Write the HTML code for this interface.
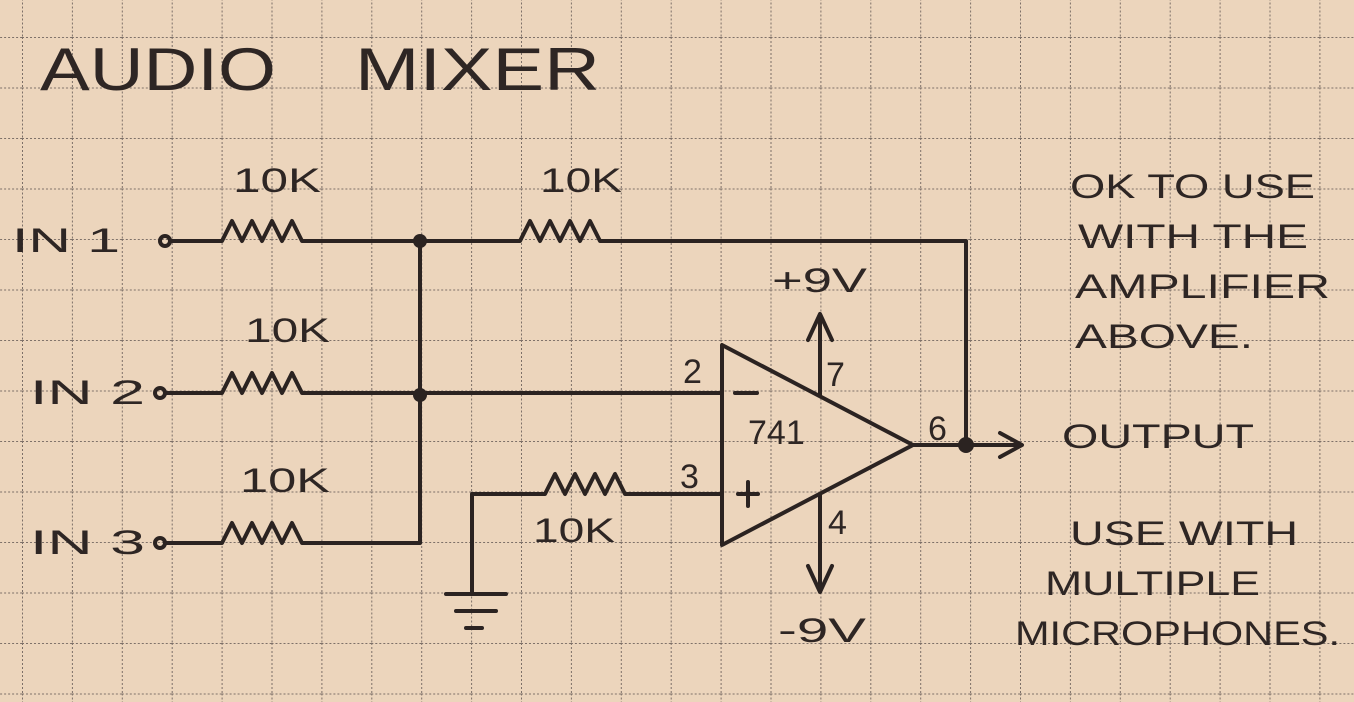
<!DOCTYPE html>
<html><head><meta charset="utf-8"><style>
html,body{margin:0;padding:0;background:#ecd5bc;}
svg{display:block}
text{font-family:"Liberation Sans",sans-serif;fill:#2e2624;}
</style></head><body>
<svg width="1354" height="702" viewBox="0 0 1354 702" xmlns="http://www.w3.org/2000/svg">
<defs>
<pattern id="g" x="22" y="37" width="49.9" height="50.5" patternUnits="userSpaceOnUse">
<path d="M0 0V50.5M0 0H49.9" stroke="#7d7068" stroke-width="2" stroke-dasharray="2 2" fill="none"/>
</pattern>
</defs>
<rect width="1354" height="702" fill="#ecd5bc"/>
<rect width="1354" height="702" fill="url(#g)"/>
<text x="40" y="90" font-size="60" textLength="236" lengthAdjust="spacingAndGlyphs">AUDIO</text>
<text x="355" y="90" font-size="60" textLength="245" lengthAdjust="spacingAndGlyphs">MIXER</text>
<g stroke="#2b2321" stroke-width="4" fill="none" stroke-linecap="round" stroke-linejoin="round">
<circle cx="165" cy="241" r="5"/>
<path d="M170 241H222l10 -20 10 20 10 -20 10 20 10 -20 10 20 10 -20 10 20H520l10 -20 10 20 10 -20 10 20 10 -20 10 20 10 -20 10 20H966V445"/>
<circle cx="160" cy="393" r="5"/>
<path d="M165 393H222l10 -20 10 20 10 -20 10 20 10 -20 10 20 10 -20 10 20H722"/>
<circle cx="160" cy="543" r="5"/>
<path d="M165 543H222l10 -20 10 20 10 -20 10 20 10 -20 10 20 10 -20 10 20H420V241"/>
<path d="M722 494H625l-10 -20 -10 20 -10 -20 -10 20 -10 -20 -10 20 -10 -20 -10 20H472V592"/>
<path d="M446 594H506M456 611H496M466 628H482"/>
<path d="M722 345V545L913 445Z"/>
<path d="M913 445H1020M1000 433L1022 445 1000 457"/>
<path d="M820 395V315M808 340L820 314 832 340"/>
<path d="M820 495V592M808 566L820 592 832 566"/>
<path d="M735 393H757M738 494H758M748 482V506"/>
</g>
<g fill="#2b2321"><circle cx="420" cy="241" r="7"/><circle cx="420" cy="395" r="7"/><circle cx="966" cy="445" r="8"/></g>
<g font-size="34">
<text x="12" y="252" textLength="108" lengthAdjust="spacingAndGlyphs">IN 1</text>
<text x="30" y="404" textLength="115" lengthAdjust="spacingAndGlyphs">IN 2</text>
<text x="30" y="554" textLength="115" lengthAdjust="spacingAndGlyphs">IN 3</text>
<text x="233" y="192" textLength="88" lengthAdjust="spacingAndGlyphs">10K</text>
<text x="540" y="192" textLength="82" lengthAdjust="spacingAndGlyphs">10K</text>
<text x="245" y="342" textLength="85" lengthAdjust="spacingAndGlyphs">10K</text>
<text x="240" y="492" textLength="90" lengthAdjust="spacingAndGlyphs">10K</text>
<text x="533" y="542" textLength="82" lengthAdjust="spacingAndGlyphs">10K</text>
<text x="683" y="383">2</text>
<text x="680" y="488">3</text>
<text x="748" y="444">741</text>
<text x="928" y="440">6</text>
<text x="826" y="386">7</text>
<text x="828" y="534">4</text>
<text x="772" y="292" textLength="95" lengthAdjust="spacingAndGlyphs">+9V</text>
<text x="778" y="642" textLength="88" lengthAdjust="spacingAndGlyphs">-9V</text>
<text x="1070" y="198" textLength="245" lengthAdjust="spacingAndGlyphs">OK TO USE</text>
<text x="1078" y="248" textLength="230" lengthAdjust="spacingAndGlyphs">WITH THE</text>
<text x="1075" y="298" textLength="255" lengthAdjust="spacingAndGlyphs">AMPLIFIER</text>
<text x="1075" y="348" textLength="178" lengthAdjust="spacingAndGlyphs">ABOVE.</text>
<text x="1062" y="448" textLength="192" lengthAdjust="spacingAndGlyphs">OUTPUT</text>
<text x="1070" y="545" textLength="228" lengthAdjust="spacingAndGlyphs">USE WITH</text>
<text x="1045" y="595" textLength="215" lengthAdjust="spacingAndGlyphs">MULTIPLE</text>
<text x="1015" y="645" textLength="325" lengthAdjust="spacingAndGlyphs">MICROPHONES.</text>
</g>
</svg>
</body></html>
